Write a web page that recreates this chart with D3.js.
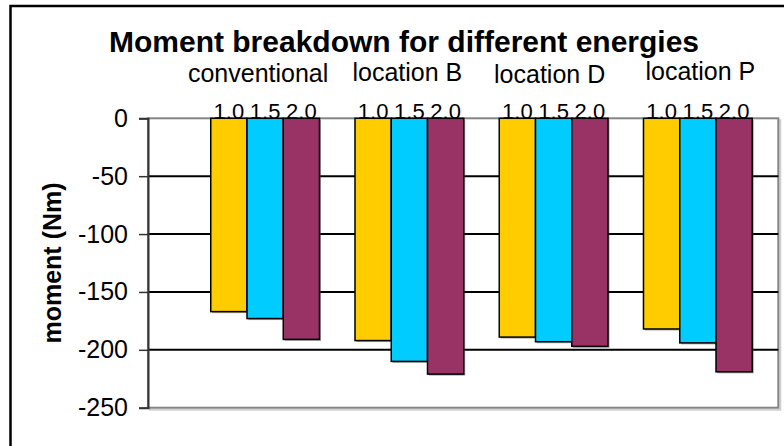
<!DOCTYPE html>
<html>
<head>
<meta charset="utf-8">
<script src="https://cdn.jsdelivr.net/npm/d3@7"></script>
<style>
  html, body { margin: 0; padding: 0; background: #fff; }
  svg { display: block; font-family: "Liberation Sans", Arial, sans-serif; }
</style>
</head>
<body>
<svg id="chart" width="784" height="446"></svg>
<script>
// ---- data ----
const categories = ["conventional", "location B", "location D", "location P"];
const seriesNames = ["1.0", "1.5", "2.0"];
const values10 = [-167, -192, -189, -182];
const values15 = [-173, -210, -193, -194];
const values20 = [-191, -221, -197, -219];
const yTicks = [0, -50, -100, -150, -200, -250];
const titleText = "Moment breakdown for different energies";
const yAxisTitle = "moment (Nm)";

// ---- layout ----
const W = 784, H = 446;
const plot = { left: 148, top: 118.3, right: 778.3, bottom: 407.7 };
const colors = { "1.0": "#FFCC00", "1.5": "#00CCFF", "2.0": "#993366" };
const seriesValues = { "1.0": values10, "1.5": values15, "2.0": values20 };
const labelDy = [0, -1, 1, -2];   // small vertical nudges of category headers
const labelDx = [-7, -2, -4, 2.5]; // small horizontal nudges of category headers

const svg = d3.select("#chart");

// outer chart border (extends past the window)
svg.append("rect")
  .attr("x", 10.5).attr("y", 6).attr("width", 820).attr("height", 520)
  .attr("fill", "#fff").attr("stroke", "#000").attr("stroke-width", 2.5);

const y = d3.scaleLinear().domain([-250, 0]).range([plot.bottom, plot.top]);
const x0 = d3.scaleBand().domain(categories).range([193, 770])
  .paddingInner(0.246).paddingOuter(0.123);
const x1 = d3.scaleBand().domain(seriesNames).range([0, x0.bandwidth()]);

// plot area shadow + background
svg.append("rect")
  .attr("x", plot.left + 2).attr("y", plot.top + 2)
  .attr("width", plot.right - plot.left).attr("height", plot.bottom - plot.top)
  .attr("fill", "none").attr("stroke", "#cfcfcf").attr("stroke-width", 2);
svg.append("rect")
  .attr("x", plot.left).attr("y", plot.top)
  .attr("width", plot.right - plot.left).attr("height", plot.bottom - plot.top)
  .attr("fill", "#fff").attr("stroke", "#858585").attr("stroke-width", 2);

// gridlines
svg.append("g").selectAll("line")
  .data(yTicks.filter(t => t !== 0 && t !== -250))
  .join("line")
  .attr("x1", plot.left).attr("x2", plot.right)
  .attr("y1", d => y(d)).attr("y2", d => y(d))
  .attr("stroke", "#000").attr("stroke-width", 2);

// y axis
const yAxis = d3.axisLeft(y).tickValues(yTicks).tickSize(9).tickPadding(11)
  .tickFormat(d3.format("d"));
const gy = svg.append("g").attr("transform", `translate(${plot.left},0)`).call(yAxis);
gy.select(".domain").attr("stroke", "#333").attr("stroke-width", 2);
gy.selectAll(".tick line").attr("stroke", "#333").attr("stroke-width", 1.5);
gy.selectAll(".tick text")
  .attr("font-size", 25).attr("fill", "#000")
  .attr("font-family", "'Liberation Sans', Arial, sans-serif")
  .text(d => d === 0 ? "0" : String(d).replace("\u2212", "-"));

// bars
const rows = categories.map((c, i) => ({
  cat: c, idx: i,
  vals: seriesNames.map(s => ({ s, v: seriesValues[s][i] }))
}));
const groups = svg.append("g").selectAll("g")
  .data(rows).join("g")
  .attr("transform", d => `translate(${x0(d.cat)},0)`);

groups.selectAll("rect.shadow")
  .data(d => d.vals).join("rect").attr("class", "shadow")
  .attr("x", d => x1(d.s) + 1.5)
  .attr("y", y(0) + 1.5)
  .attr("width", x1.bandwidth())
  .attr("height", d => y(d.v) - y(0))
  .attr("fill", "#555").attr("opacity", 0.5);

groups.selectAll("rect.bar")
  .data(d => d.vals).join("rect").attr("class", "bar")
  .attr("x", d => x1(d.s))
  .attr("y", y(0))
  .attr("width", x1.bandwidth())
  .attr("height", d => y(d.v) - y(0))
  .attr("fill", d => colors[d.s])
  .attr("stroke", "#000").attr("stroke-width", 1.5);

// series labels above bars
groups.selectAll("text.slabel")
  .data(d => d.vals).join("text").attr("class", "slabel")
  .attr("x", d => x1(d.s) + x1.bandwidth() / 2)
  .attr("y", y(0) + 0.5)
  .attr("text-anchor", "middle")
  .attr("font-size", 22).attr("fill", "#000")
  .text(d => d.s);

// category headers
groups.append("text")
  .attr("x", d => x0.bandwidth() / 2 + labelDx[d.idx])
  .attr("y", d => 82 + labelDy[d.idx])
  .attr("text-anchor", "middle")
  .attr("font-size", 25).attr("fill", "#000")
  .text(d => d.cat);

// title
svg.append("text")
  .attr("x", 404).attr("y", 51.7)
  .attr("text-anchor", "middle")
  .attr("font-size", 30).attr("font-weight", "bold").attr("fill", "#000")
  .text(titleText);

// y axis title
svg.append("text")
  .attr("transform", `translate(61,${(plot.top + plot.bottom) / 2}) rotate(-90)`)
  .attr("text-anchor", "middle")
  .attr("font-size", 25).attr("font-weight", "bold").attr("fill", "#000")
  .text(yAxisTitle);
</script>
</body>
</html>
